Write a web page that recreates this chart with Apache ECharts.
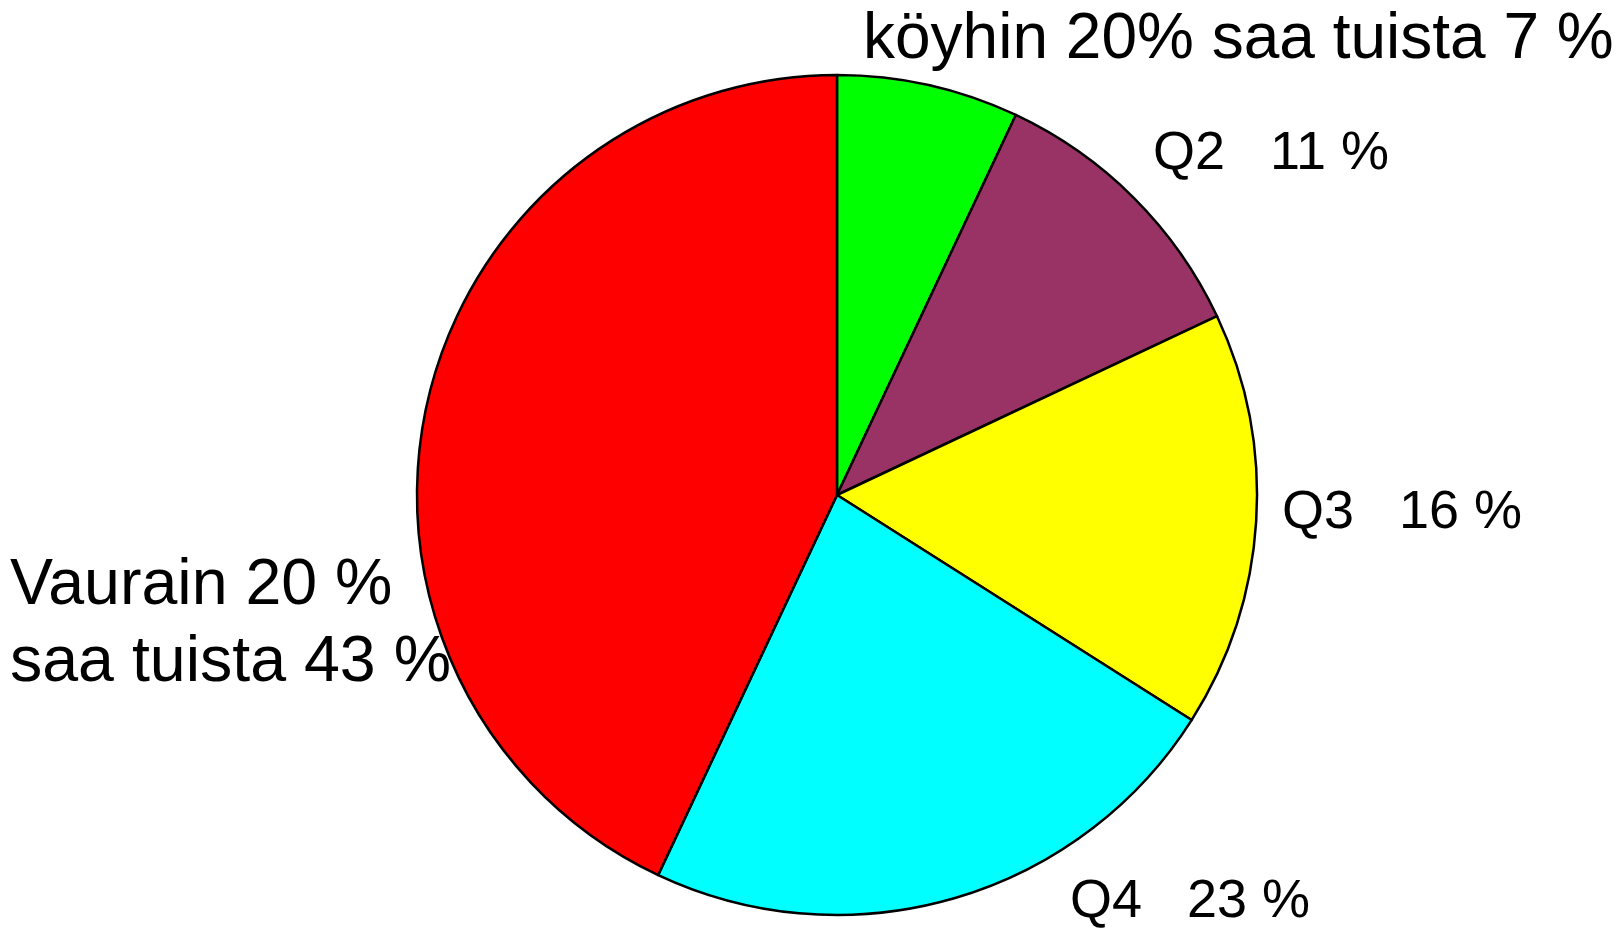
<!DOCTYPE html>
<html>
<head>
<meta charset="utf-8">
<script src="https://cdn.jsdelivr.net/npm/echarts@6/dist/echarts.min.js"></script>
<style>
  html, body { margin: 0; padding: 0; background: #fff; }
  #main { width: 1624px; height: 930px; }
</style>
</head>
<body>
<div id="main"></div>
<script>
// slice names and shares (%), clockwise from 12 o'clock
var names = [
  "köyhin 20% saa tuista 7 %",
  "Q2   11 %",
  "Q3   16 %",
  "Q4   23 %",
  "Vaurain 20 %\nsaa tuista 43 %"
];
var shares = [7, 11, 16, 23, 43];
var colors = ["#00ff00", "#993366", "#ffff00", "#00ffff", "#ff0000"];

// where each label sits (left edge, vertical middle)
var labelPos = [
  { x: 863, y: 40, size: 64 },
  { x: 1153, y: 154, size: 54 },
  { x: 1282, y: 513, size: 54 },
  { x: 1070, y: 902, size: 54 },
  { x: 10, y: 625, size: 64.5 }
];

var chart = echarts.init(document.getElementById("main"));

var pieData = [];
for (var i = 0; i < names.length; i++) {
  pieData.push({
    name: names[i],
    value: shares[i],
    itemStyle: { color: colors[i] },
    label: { fontSize: labelPos[i].size, lineHeight: 77 }
  });
}

chart.setOption({
  backgroundColor: "#ffffff",
  animation: false,
  series: [
    {
      type: "pie",
      center: [837, 495],
      radius: 420,
      startAngle: 90,
      clockwise: true,
      avoidLabelOverlap: false,
      itemStyle: {
        borderColor: "#000000",
        borderWidth: 2.5
      },
      label: {
        show: true,
        position: "outside",
        formatter: "{b}",
        color: "#000000",
        fontFamily: "'Liberation Sans', Arial, sans-serif"
      },
      labelLine: { show: false },
      labelLayout: function(params) {
        var p = labelPos[params.dataIndex];
        return {
          x: p.x,
          y: p.y,
          align: "left",
          verticalAlign: "middle"
        };
      },
      data: pieData
    }
  ]
});
</script>
</body>
</html>
